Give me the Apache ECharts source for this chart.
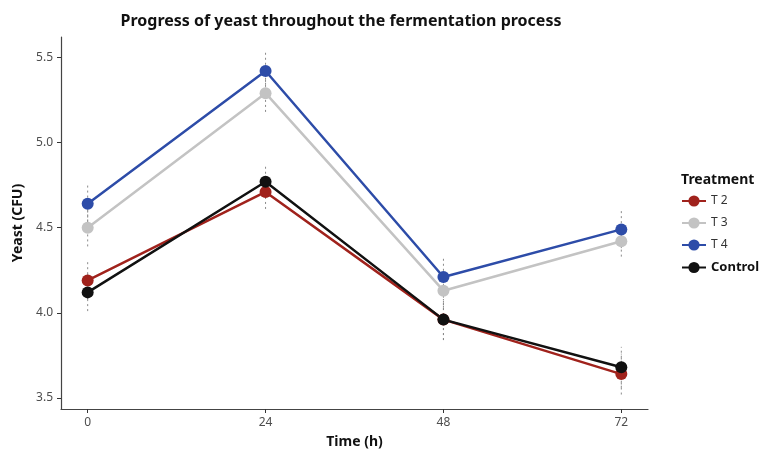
<!DOCTYPE html>
<html><head><meta charset="utf-8">
<script src="https://cdn.jsdelivr.net/npm/echarts@6/dist/echarts.min.js"></script>
<style>html,body{margin:0;padding:0;background:#fff}#c{width:762px;height:454px}</style>
</head><body><div id="c"></div>
<script>
const times = [0, 24, 48, 72];
const xTicks = [0, 24, 48, 72];
const yTicks = [3.5, 4.0, 4.5, 5.0, 5.5];
const seriesNames = ['T 2', 'T 3', 'T 4', 'Control'];
const t2 = [4.19, 4.71, 3.96, 3.64];
const t3 = [4.50, 5.29, 4.13, 4.42];
const t4 = [4.64, 5.42, 4.21, 4.49];
const control = [4.12, 4.77, 3.96, 3.68];
const t2Err = [0.11, 0.10, 0.12, 0.12];
const t3Err = [0.11, 0.11, 0.10, 0.09];
const t4Err = [0.11, 0.11, 0.11, 0.11];
const controlErr = [0.11, 0.10, 0.12, 0.12];
const colors = ['#a0221c', '#c3c3c3', '#2d4ca8', '#111111'];

const values = [t2, t3, t4, control];
const errs = [t2Err, t3Err, t4Err, controlErr];

const chart = echarts.init(document.getElementById('c'), null, {renderer: 'canvas'});
const font = '"Noto Sans", "Open Sans", sans-serif';

const series = [];
values.forEach((vals, i) => {
  series.push({
    type: 'custom',
    name: seriesNames[i] + '_err',
    silent: true,
    z: 1,
    data: times.map((t, j) => [t, vals[j] - errs[i][j], vals[j] + errs[i][j]]),
    renderItem: function (params, api) {
      const p1 = api.coord([api.value(0), api.value(1)]);
      const p2 = api.coord([api.value(0), api.value(2)]);
      return {
        type: 'line',
        shape: {x1: p1[0], y1: p1[1], x2: p2[0], y2: p2[1]},
        style: {stroke: '#8a8a8a', lineWidth: 1, lineDash: [2, 3]}
      };
    }
  });
});
values.forEach((vals, i) => {
  series.push({
    type: 'line',
    name: seriesNames[i],
    z: 3 + (i === 3 ? 0 : i),
    data: times.map((t, j) => [t, vals[j]]),
    symbol: 'circle',
    symbolSize: 12,
    lineStyle: {width: 2.5, color: colors[i]},
    itemStyle: {color: colors[i]},
    animation: false
  });
});

chart.setOption({
  animation: false,
  title: [{
    text: 'Progress of yeast throughout the fermentation process',
    left: 336, top: 8, textAlign: 'center',
    textStyle: {fontFamily: font, fontSize: 16, fontWeight: 'bold', color: '#111'}
  }, {
    text: 'Treatment',
    left: 676, top: 168,
    textStyle: {fontFamily: font, fontSize: 14, fontWeight: 'bold', color: '#111'}
  }],
  legend: {
    data: seriesNames,
    orient: 'vertical',
    left: 676, top: 190,
    itemWidth: 24, itemHeight: 14, itemGap: 10,
    formatter: function (n) { return n === 'Control' ? '{b|' + n + '}' : n; },
    textStyle: {fontFamily: font, fontSize: 12, color: '#333',
      rich: {b: {fontFamily: font, fontSize: 13, fontWeight: 'bold', color: '#111'}}}
  },
  grid: {left: 61, top: 37, width: 587, height: 374},
  xAxis: {
    type: 'value', min: -3.6, max: 75.6,
    name: 'Time (h)', nameLocation: 'middle', nameGap: 26,
    nameTextStyle: {fontFamily: font, fontSize: 14, fontWeight: 'bold', color: '#111'},
    axisLine: {show: true, onZero: false, lineStyle: {color: '#444', width: 1.2}},
    axisTick: {show: true, length: 4, customValues: xTicks, lineStyle: {color: '#333', width: 1}},
    axisLabel: {customValues: xTicks, fontFamily: font, fontSize: 12, color: '#4d4d4d', margin: 8},
    splitLine: {show: false}
  },
  yAxis: {
    type: 'value', min: 3.435, max: 5.62,
    name: 'Yeast (CFU)', nameLocation: 'middle', nameGap: 33, nameRotate: 90,
    nameTextStyle: {fontFamily: font, fontSize: 14, fontWeight: 'bold', color: '#111'},
    axisLine: {show: true, onZero: false, lineStyle: {color: '#444', width: 1.2}},
    axisTick: {show: true, length: 4, customValues: yTicks, lineStyle: {color: '#333', width: 1}},
    axisLabel: {customValues: yTicks, fontFamily: font, fontSize: 12, color: '#4d4d4d', margin: 8,
      formatter: v => v.toFixed(1)},
    splitLine: {show: false}
  },
  series: series
});
</script>
</body></html>
